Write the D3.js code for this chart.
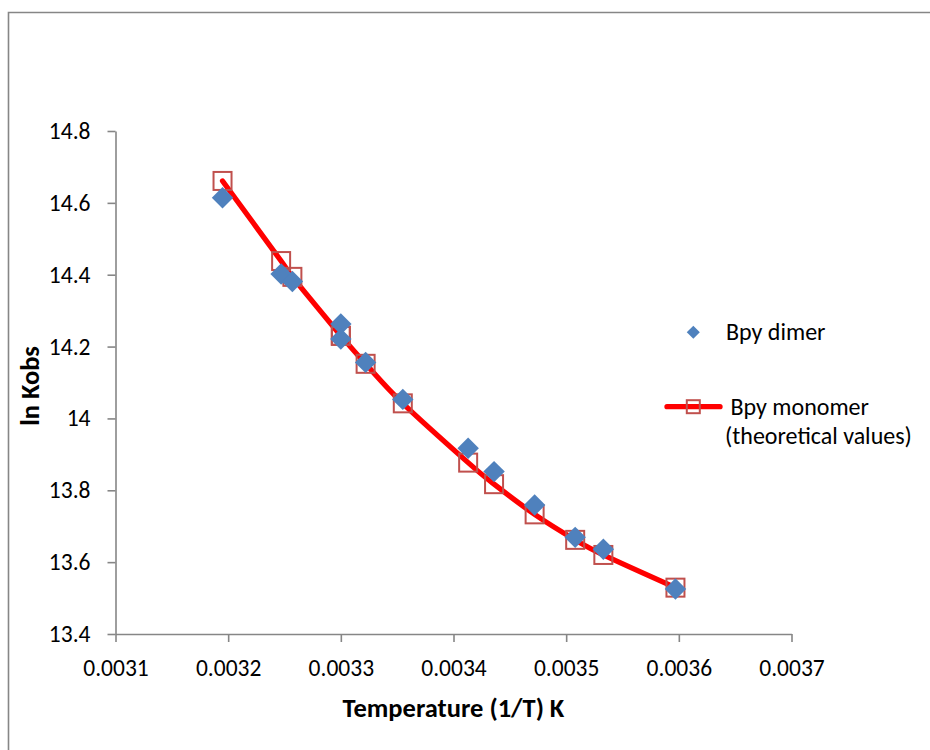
<!DOCTYPE html>
<html>
<head>
<meta charset="utf-8">
<script src="https://cdn.jsdelivr.net/npm/d3@7"></script>
<style>
  html, body { margin: 0; padding: 0; background: #fff; }
  svg { display: block; }
  text { font-family: Carlito, Calibri, Lato, "Open Sans", sans-serif; fill: #000; }
</style>
</head>
<body>
<svg id="chart" width="930" height="750"></svg>
<script>
// ---- data ----
const temperatureInv = [0.003195, 0.003247, 0.003257, 0.0033, 0.0033, 0.003322, 0.003355, 0.003413, 0.003436, 0.003472, 0.003508, 0.003533, 0.003597];
const dimerLnK = [14.614, 14.402, 14.381, 14.263, 14.221, 14.156, 14.053, 13.917, 13.852, 13.759, 13.669, 13.636, 13.525];
const monomerLnK = [14.661, 14.438, 14.394, 14.23, 14.23, 14.152, 14.042, 13.877, 13.817, 13.733, 13.662, 13.620, 13.529];
const xTicks = [0.0031, 0.0032, 0.0033, 0.0034, 0.0035, 0.0036, 0.0037];
const xTickLabels = ["0.0031", "0.0032", "0.0033", "0.0034", "0.0035", "0.0036", "0.0037"];
const yTicks = [13.4, 13.6, 13.8, 14.0, 14.2, 14.4, 14.6, 14.8];
const yTickLabels = ["13.4", "13.6", "13.8", "14", "14.2", "14.4", "14.6", "14.8"];
const seriesNames = ["Bpy dimer", "Bpy monomer", "(theoretical values)"];
const xTitle = "Temperature (1/T) K";
const yTitle = "ln Kobs";

// ---- layout ----
const svg = d3.select("#chart");
const pLeft = 115.5, pRight = 791.5, pTop = 131, pBottom = 634;
const axisColor = "#868686";
const blue = "#4F81BD", squareColor = "#C0504D", lineColor = "#FF0000";

const x = d3.scaleLinear().domain([0.0031, 0.0037]).range([pLeft, pRight]);
const y = d3.scaleLinear().domain([13.4, 14.8]).range([pBottom, pTop]);

// outer chart border (left + top only visible)
svg.append("path")
  .attr("d", `M8.5,750 L8.5,12.5 L930,12.5`)
  .attr("fill", "none").attr("stroke", axisColor).attr("stroke-width", 1.6);

// axes
const yAxis = d3.axisLeft(y).tickValues(yTicks).tickSize(8).tickSizeOuter(0).tickPadding(17)
  .tickFormat((d, i) => yTickLabels[i]);
const xAxis = d3.axisBottom(x).tickValues(xTicks).tickSize(8).tickSizeOuter(0)
  .tickFormat((d, i) => xTickLabels[i]);

const gy = svg.append("g").attr("transform", `translate(${pLeft},0)`).call(yAxis);
const gx = svg.append("g").attr("transform", `translate(0,${pBottom})`).call(xAxis);
[gx, gy].forEach(g => {
  g.select(".domain").attr("stroke", axisColor).attr("stroke-width", 1.6);
  g.selectAll(".tick line").attr("stroke", axisColor).attr("stroke-width", 1.6);
  g.selectAll(".tick text").attr("font-size", 23.5).attr("font-family", null).attr("fill", "#000");
});
gx.selectAll(".tick text").attr("y", 42).attr("dy", null);

// axis titles
svg.append("text")
  .attr("x", (pLeft + pRight) / 2).attr("y", 717)
  .attr("text-anchor", "middle").attr("font-size", 26.5).attr("font-weight", "bold")
  .text(xTitle);
svg.append("text")
  .attr("transform", `translate(38.5,386) rotate(-90)`)
  .attr("text-anchor", "middle").attr("font-size", 26.5).attr("font-weight", "bold")
  .text(yTitle);

// monomer smoothed line
const monoPts = temperatureInv.map((t, i) => [x(t), y(monomerLnK[i])]);
svg.append("path")
  .attr("d", d3.line().curve(d3.curveCardinal.tension(0))(monoPts))
  .attr("fill", "none").attr("stroke", lineColor).attr("stroke-width", 5.3)
  .attr("stroke-linecap", "round").attr("stroke-linejoin", "round");

// monomer squares
const sq = 18;
svg.append("g").selectAll("rect").data(temperatureInv).join("rect")
  .attr("x", (d, i) => x(d) - sq / 2).attr("y", (d, i) => y(monomerLnK[i]) - sq / 2)
  .attr("width", sq).attr("height", sq)
  .attr("fill", "none").attr("stroke", squareColor).attr("stroke-width", 2);

// dimer diamonds
const diamond = d3.symbol().type(d3.symbolSquare).size(230);
svg.append("g").selectAll("path").data(temperatureInv).join("path")
  .attr("d", diamond)
  .attr("transform", (d, i) => `translate(${x(d)},${y(dimerLnK[i])}) rotate(45)`)
  .attr("fill", blue);

// legend
const lg = svg.append("g");
lg.append("path").attr("d", d3.symbol().type(d3.symbolSquare).size(85))
  .attr("transform", "translate(693.3,332.3) rotate(45)").attr("fill", blue);
lg.append("text").attr("x", 726).attr("y", 340).attr("font-size", 24).text(seriesNames[0]);
lg.append("line").attr("x1", 667).attr("x2", 720).attr("y1", 406.7).attr("y2", 406.7)
  .attr("stroke", lineColor).attr("stroke-width", 5.3).attr("stroke-linecap", "round");
lg.append("rect").attr("x", 693.3 - 6.5).attr("y", 406.7 - 6.5).attr("width", 13).attr("height", 13)
  .attr("fill", "none").attr("stroke", squareColor).attr("stroke-width", 2);
lg.append("text").attr("x", 730.5).attr("y", 414.5).attr("font-size", 24).text(seriesNames[1]);
lg.append("text").attr("x", 725).attr("y", 444).attr("font-size", 24).text(seriesNames[2]);
</script>
</body>
</html>
